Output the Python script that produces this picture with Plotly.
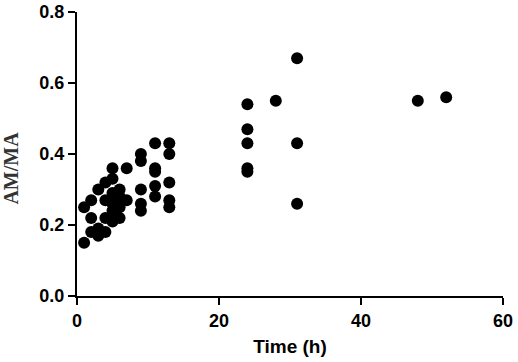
import plotly.graph_objects as go

# Time (h) and AM/MA values
time_h = [1, 1,
          2, 2, 2,
          3, 3, 3,
          4, 4, 4, 4,
          5, 5, 5, 5, 5, 5,
          6, 6, 6, 6,
          7, 7,
          9, 9, 9, 9, 9,
          11, 11, 11, 11, 11,
          13, 13, 13, 13, 13,
          24, 24, 24, 24, 24,
          28,
          31, 31, 31,
          48,
          52]
am_ma = [0.25, 0.15,
         0.27, 0.22, 0.18,
         0.30, 0.19, 0.17,
         0.32, 0.27, 0.22, 0.18,
         0.36, 0.33, 0.29, 0.26, 0.24, 0.21,
         0.30, 0.28, 0.25, 0.22,
         0.36, 0.27,
         0.40, 0.38, 0.30, 0.26, 0.24,
         0.43, 0.36, 0.35, 0.31, 0.28,
         0.43, 0.40, 0.32, 0.27, 0.25,
         0.54, 0.47, 0.43, 0.36, 0.35,
         0.55,
         0.67, 0.43, 0.26,
         0.55,
         0.56]

x_ticks = [0, 20, 40, 60]
y_ticks = [0.0, 0.2, 0.4, 0.6, 0.8]
y_tick_text = ["0.0", "0.2", "0.4", "0.6", "0.8"]

fig = go.Figure()
fig.add_trace(go.Scatter(
    x=time_h, y=am_ma, mode="markers",
    marker=dict(color="black", size=12, line=dict(width=0)),
    showlegend=False, cliponaxis=False,
))

axis_common = dict(
    showgrid=False, zeroline=False, showline=True, linecolor="black", linewidth=2,
    ticks="outside", ticklen=7, tickwidth=2, tickcolor="black", automargin=False,
    tickfont=dict(family="Liberation Sans, Arial, sans-serif", size=18, color="black", weight="bold"),
)

fig.update_layout(
    width=518, height=362,
    margin=dict(l=77, r=15, t=12, b=66, autoexpand=False),
    paper_bgcolor="white", plot_bgcolor="white",
    xaxis=dict(range=[0, 60], tickvals=x_ticks, ticktext=[str(v) for v in x_ticks],
               title=dict(text="Time (h)", standoff=10,
                          font=dict(family="Liberation Sans, Arial, sans-serif", size=19,
                                    color="black", weight="bold")),
               **axis_common),
    yaxis=dict(range=[0, 0.8], tickvals=y_ticks, ticktext=y_tick_text, **axis_common),
    annotations=[dict(
        text="AM/MA", xref="paper", yref="paper", x=-0.154, y=0.45,
        textangle=-90, showarrow=False, xanchor="center", yanchor="middle",
        font=dict(family="Liberation Serif, Times New Roman, serif", size=20,
                  color="#333", weight="bold"),
    )],
)

fig.write_html("out.html", config={"displayModeBar": False},
               post_script="document.body.style.margin='0';document.body.style.overflow='hidden';")
